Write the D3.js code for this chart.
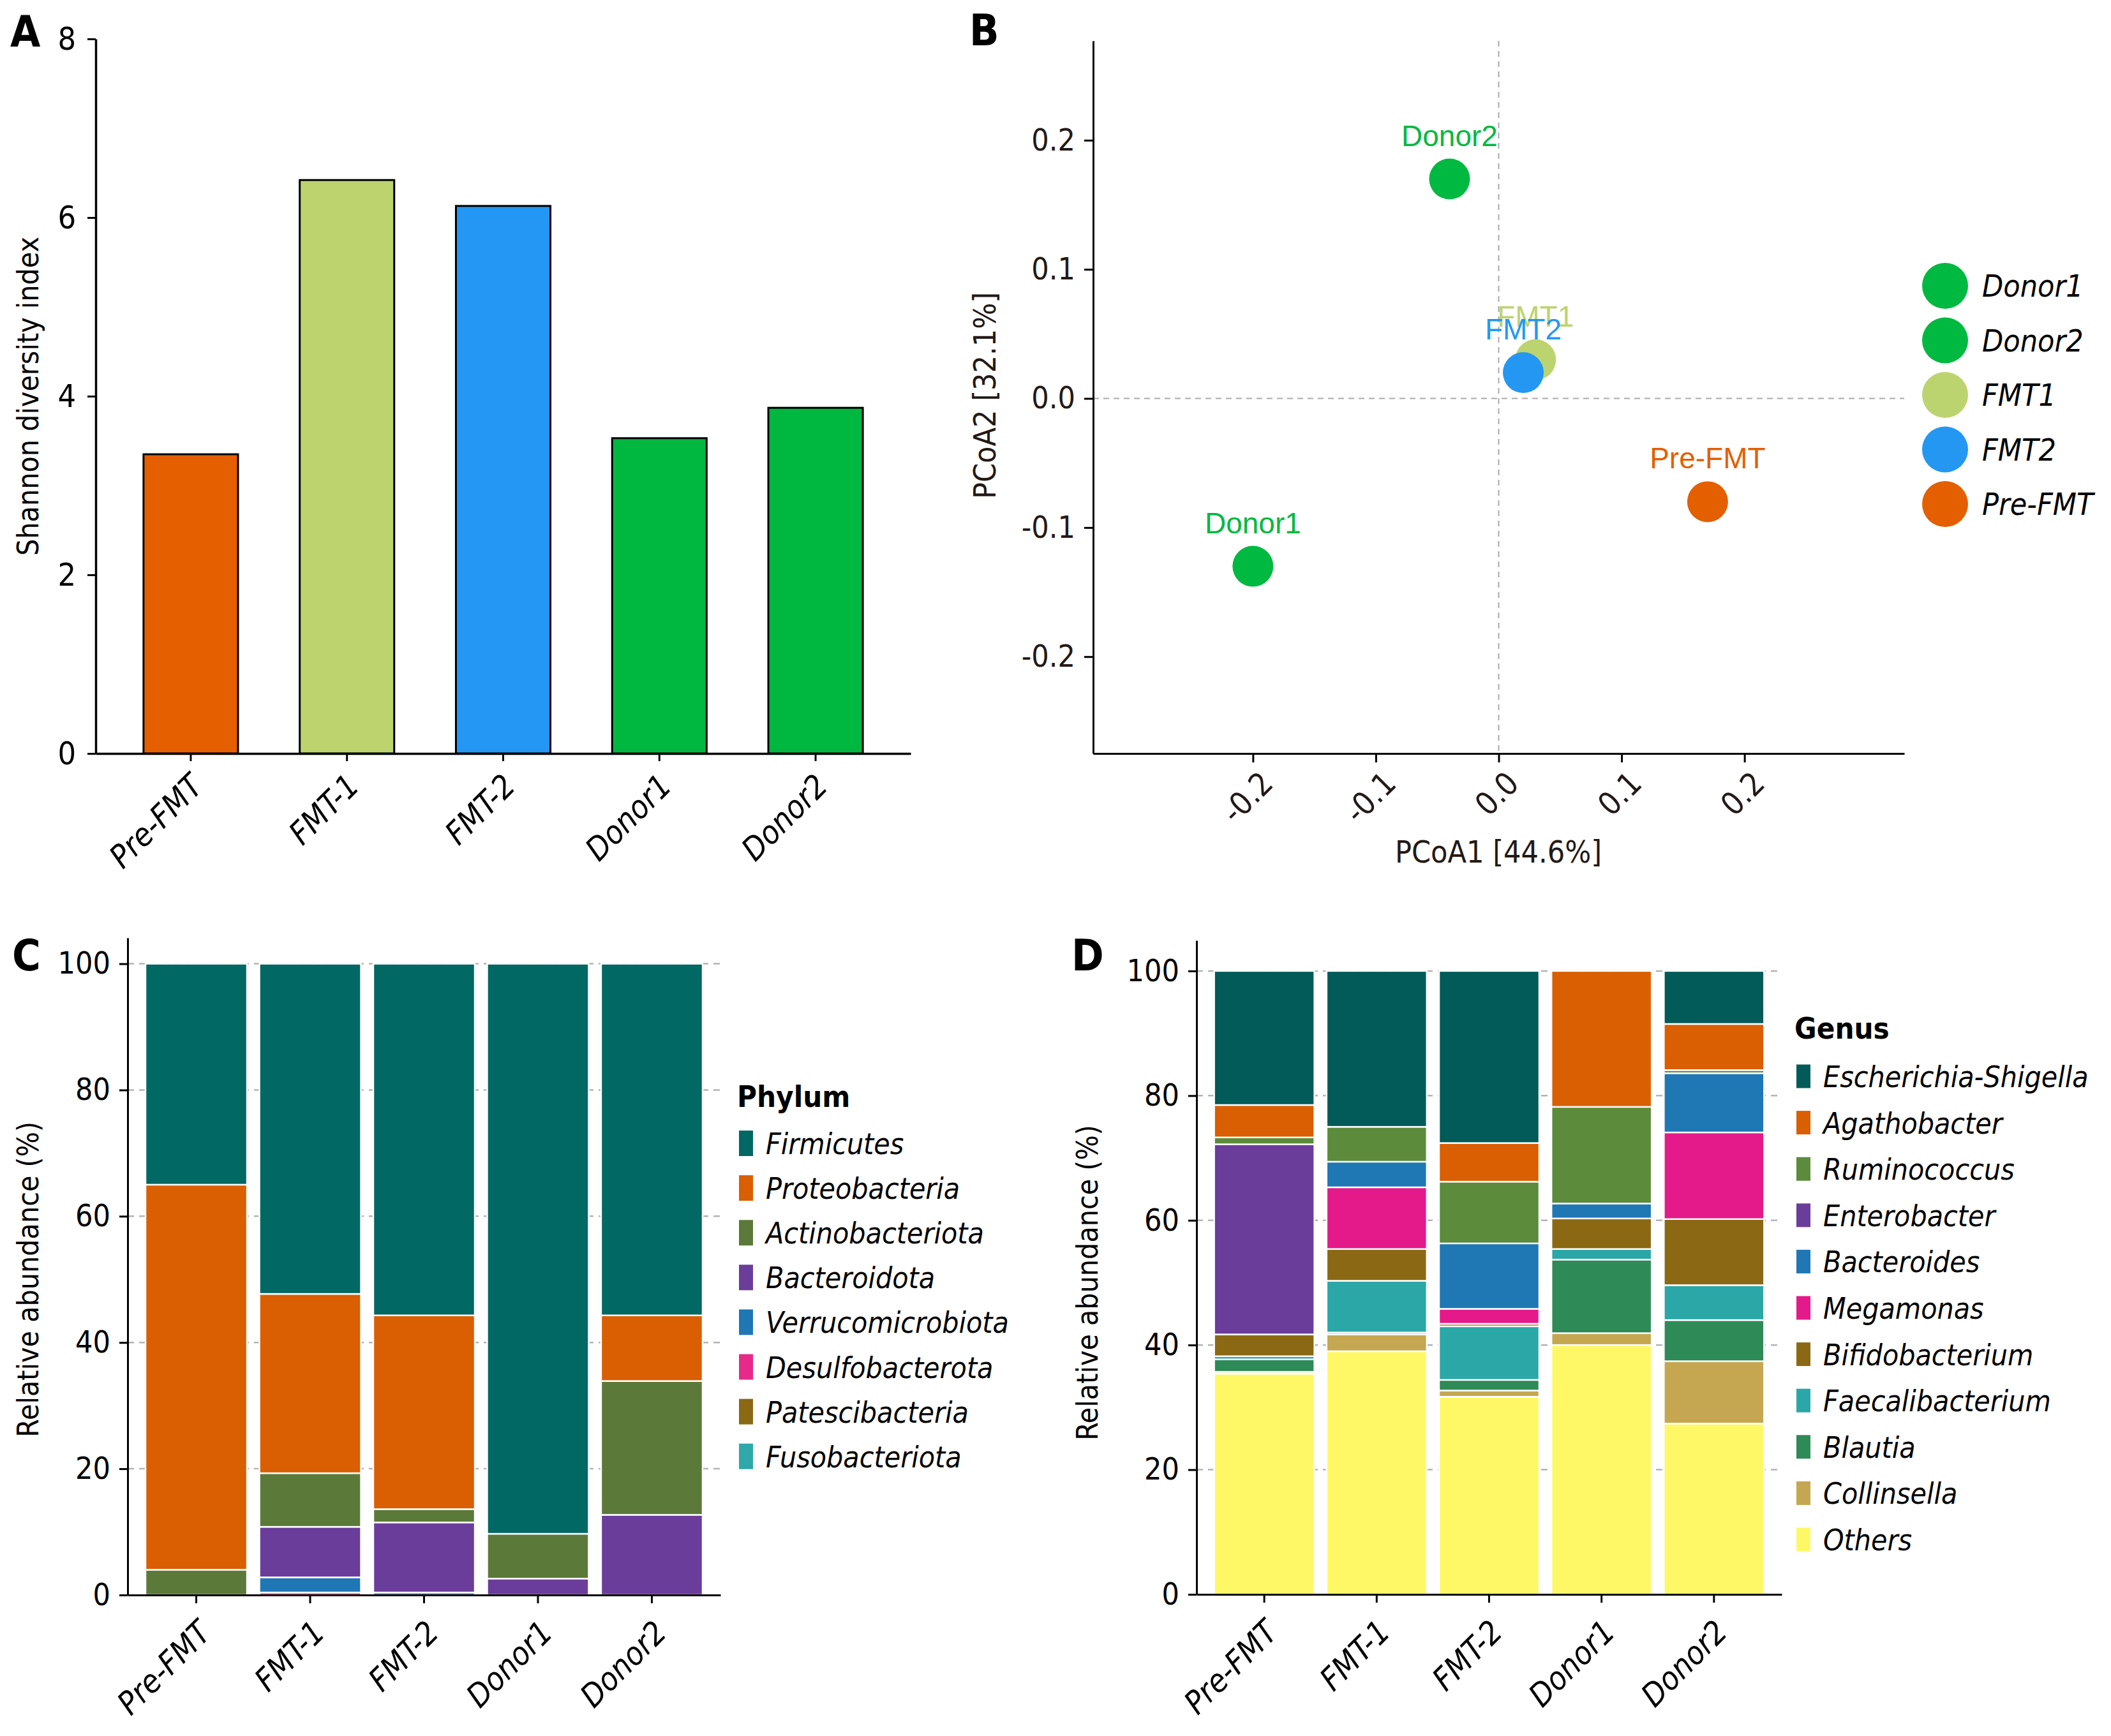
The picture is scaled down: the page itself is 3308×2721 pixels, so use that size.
<!DOCTYPE html>
<html>
<head>
<meta charset="utf-8">
<script src="https://cdn.jsdelivr.net/npm/d3@7"></script>
<style>
body { margin: 0; background: #fff; }
svg { display: block; }
</style>
</head>
<body>
<svg id="fig" width="3308" height="2721"></svg>
<script>
// ---- data ----
var samples = ["Pre-FMT", "FMT-1", "FMT-2", "Donor1", "Donor2"];
var shannon = [3.35, 6.42, 6.13, 3.53, 3.87];
var shannonColors = ["#E55F00", "#BCD36E", "#2397F3", "#00B840", "#00B840"];

var pcoaNames = ["Donor1", "Donor2", "FMT1", "FMT2", "Pre-FMT"];
var pcoa1 = [-0.20, -0.04, 0.03, 0.02, 0.17];
var pcoa2 = [-0.13, 0.17, 0.03, 0.02, -0.08];
var pcoaColors = ["#00B940", "#00B940", "#BCD46F", "#2497F3", "#E35F00"];
var pcoaTicks = [-0.2, -0.1, 0.0, 0.1, 0.2];

var phyla = ["Firmicutes", "Proteobacteria", "Actinobacteriota", "Bacteroidota",
    "Verrucomicrobiota", "Desulfobacterota", "Patescibacteria", "Fusobacteriota"];
var phylumColors = ["#016864", "#D95F02", "#5B7A3A", "#6A3D9A", "#1F77B4", "#E7298A", "#8B6914", "#2EA8A8"];
var firmicutes = [35.0, 52.3, 55.7, 90.3, 55.7];
var proteobacteria = [61.0, 28.4, 30.7, 0, 10.4];
var actinobacteriota = [4.0, 8.5, 2.1, 7.1, 21.2];
var bacteroidota = [0, 8.0, 11.1, 2.6, 12.7];
var verrucomicrobiota = [0, 2.4, 0.4, 0, 0];
var desulfobacterota = [0, 0.4, 0, 0, 0];
var patescibacteria = [0, 0, 0, 0, 0];
var fusobacteriota = [0, 0, 0, 0, 0];

var genera = ["Escherichia-Shigella", "Agathobacter", "Ruminococcus", "Enterobacter", "Bacteroides",
    "Megamonas", "Bifidobacterium", "Faecalibacterium", "Blautia", "Collinsella", "Others"];
var genusColors = ["#035B59", "#D95F02", "#5B8B3B", "#6A3D9A", "#1F77B4", "#E41A8A",
    "#8B6914", "#2CA7A7", "#2E8A57", "#C4A750", "#FFF866"];
var escherichia = [21.5, 25.0, 27.6, 0, 8.5];
var agathobacter = [5.2, 0, 6.2, 21.8, 7.4];
var ruminococcus = [1.1, 5.6, 9.9, 15.5, 0.5];
var enterobacter = [30.5, 0, 0, 0, 0];
var bacteroides = [0, 4.1, 10.5, 2.4, 9.5];
var megamonas = [0, 9.9, 2.4, 0, 13.9];
var bifidobacterium = [3.5, 5.1, 0.4, 4.9, 10.6];
var faecalibacterium = [0.5, 8.3, 8.6, 1.7, 5.6];
var blautia = [2.0, 0.3, 1.7, 11.8, 6.6];
var collinsella = [0.3, 2.7, 1.0, 1.9, 10.0];
var others = [35.4, 39.0, 31.7, 40.0, 27.4];

var abundanceTicks = [0, 20, 40, 60, 80, 100];

var FONT = '"DejaVu Sans Condensed", "DejaVu Sans", sans-serif';
var svg = d3.select("#fig");

function styleAxis(g, size, italic, color) {
    g.attr("font-family", FONT).attr("font-size", size);
    g.selectAll(".domain").attr("stroke", "#000").attr("stroke-width", 3.5);
    g.selectAll(".tick line").attr("stroke", "#000").attr("stroke-width", 3);
    g.selectAll(".tick text").attr("fill", color || "#000")
        .style("font-style", italic ? "italic" : "normal")
        .style("font-stretch", "condensed");
}

function rotateLabels(g, dx, dy) {
    g.selectAll(".tick text")
        .attr("x", 0).attr("y", 0).attr("dy", 0)
        .attr("text-anchor", "end")
        .attr("transform", "translate(" + dx + "," + dy + ") rotate(-45)");
}

function panelLetter(txt, x, y) {
    svg.append("text").attr("x", x).attr("y", y)
        .attr("font-family", FONT).attr("font-weight", "bold")
        .style("font-stretch", "condensed")
        .attr("font-size", 68).text(txt);
}

// ---- A: Shannon bars ----
var xA = d3.scaleBand().domain(samples).range([150, 1427]).paddingInner(0.395).paddingOuter(0.306);
var yA = d3.scaleLinear().domain([0, 8]).range([1181, 61]);
var gA = svg.append("g");

gA.selectAll("rect").data(shannon).enter().append("rect")
    .attr("x", function(d, i) { return xA(samples[i]); })
    .attr("y", function(d) { return yA(d); })
    .attr("width", xA.bandwidth())
    .attr("height", function(d) { return yA(0) - yA(d); })
    .attr("fill", function(d, i) { return shannonColors[i]; })
    .attr("stroke", "#000").attr("stroke-width", 3);

var axAx = gA.append("g").attr("transform", "translate(0,1181)")
    .call(d3.axisBottom(xA).tickSize(12).tickSizeOuter(0));
styleAxis(axAx, 50, true);
rotateLabels(axAx, 22, 54);

var axAy = gA.append("g").attr("transform", "translate(150,0)")
    .call(d3.axisLeft(yA).ticks(4).tickSize(13).tickSizeOuter(0).tickPadding(18));
styleAxis(axAy, 50, false);

gA.append("text").attr("transform", "translate(60,621) rotate(-90)")
    .attr("text-anchor", "middle").attr("font-family", FONT).style("font-stretch", "condensed")
    .attr("font-size", 46).text("Shannon diversity index");
panelLetter("A", 16, 73);

// ---- B: PCoA ----
var xB = d3.scaleLinear().domain([-0.33, 0.33]).range([1713, 2984]);
var yB = d3.scaleLinear().domain([-0.275, 0.277]).range([1181, 64]);
var gB = svg.append("g");
var fmt1 = function(d) { return d.toFixed(1); };

gB.append("line").attr("x1", xB(0)).attr("x2", xB(0)).attr("y1", yB.range()[1]).attr("y2", yB.range()[0])
    .attr("stroke", "#aaa").attr("stroke-width", 2).attr("stroke-dasharray", "9,7");
gB.append("line").attr("x1", xB.range()[0]).attr("x2", xB.range()[1]).attr("y1", yB(0)).attr("y2", yB(0))
    .attr("stroke", "#aaa").attr("stroke-width", 2).attr("stroke-dasharray", "9,7");

var axBx = gB.append("g").attr("transform", "translate(0,1181)")
    .call(d3.axisBottom(xB).tickValues(pcoaTicks).tickFormat(fmt1).tickSize(14).tickSizeOuter(0));
styleAxis(axBx, 50, false, "#231916");
axBx.selectAll(".domain").attr("stroke-width", 3);
rotateLabels(axBx, 34, 50);

var axBy = gB.append("g").attr("transform", "translate(1713,0)")
    .call(d3.axisLeft(yB).tickValues(pcoaTicks).tickFormat(fmt1).tickSize(14).tickSizeOuter(0).tickPadding(14));
styleAxis(axBy, 48, false, "#231916");
axBy.selectAll(".domain").attr("stroke-width", 3);

gB.selectAll("circle.pt").data(pcoaNames).enter().append("circle").attr("class", "pt")
    .attr("cx", function(d, i) { return xB(pcoa1[i]); })
    .attr("cy", function(d, i) { return yB(pcoa2[i]); })
    .attr("r", 32)
    .attr("fill", function(d, i) { return pcoaColors[i]; });

gB.selectAll("text.lab").data(pcoaNames).enter().append("text").attr("class", "lab")
    .attr("x", function(d, i) { return xB(pcoa1[i]); })
    .attr("y", function(d, i) { return yB(pcoa2[i]) - 52; })
    .attr("text-anchor", "middle")
    .attr("font-family", '"Liberation Sans", Arial, sans-serif').attr("font-size", 46)
    .attr("fill", function(d, i) { return pcoaColors[i]; })
    .text(function(d) { return d; });

gB.append("text").attr("x", 2348).attr("y", 1352).attr("text-anchor", "middle")
    .attr("font-family", FONT).style("font-stretch", "condensed").attr("font-size", 48)
    .attr("fill", "#231916").text("PCoA1 [44.6%]");
gB.append("text").attr("transform", "translate(1560,620) rotate(-90)").attr("text-anchor", "middle")
    .attr("font-family", FONT).style("font-stretch", "condensed").attr("font-size", 48)
    .attr("fill", "#231916").text("PCoA2 [32.1%]");

var legB = gB.append("g").selectAll("g").data(pcoaNames).enter().append("g")
    .attr("transform", function(d, i) { return "translate(3048," + (448 + i * 85.5) + ")"; });
legB.append("circle").attr("r", 36).attr("fill", function(d, i) { return pcoaColors[i]; });
legB.append("text").attr("x", 58).attr("y", 17)
    .attr("font-family", FONT).style("font-stretch", "condensed").style("font-style", "italic")
    .attr("font-size", 48).text(function(d) { return d; });
panelLetter("B", 1519, 71);

// ---- C / D: stacked abundance bars ----
function stackedPanel(opt) {
    var rows = samples.map(function(s, i) {
        var r = { sample: s };
        opt.keys.forEach(function(k, j) { r[k] = opt.series[j][i]; });
        return r;
    });
    var colorOf = d3.scaleOrdinal().domain(opt.keys).range(opt.colors);
    var x = d3.scaleBand().domain(samples).range(opt.xr).paddingInner(0.109).paddingOuter(0.157);
    var y = d3.scaleLinear().domain([0, opt.ymax]).range(opt.yr);
    var g = svg.append("g");

    g.append("g").selectAll("line").data(abundanceTicks.slice(1)).enter().append("line")
        .attr("x1", opt.xr[0]).attr("x2", opt.xr[1])
        .attr("y1", function(d) { return y(d); }).attr("y2", function(d) { return y(d); })
        .attr("stroke", "#b4b4b4").attr("stroke-width", 2.5).attr("stroke-dasharray", "10,8");

    // stack bottom-up: reverse of legend order
    var stackKeys = opt.keys.slice().reverse();
    var layers = d3.stack().keys(stackKeys)(rows);
    g.selectAll("g.layer").data(layers).enter().append("g").attr("class", "layer")
        .attr("fill", function(d) { return colorOf(d.key); })
        .selectAll("rect").data(function(d) { return d.filter(function(s) { return s[1] - s[0] > 0; }); })
        .enter().append("rect")
        .attr("x", function(d) { return x(d.data.sample); })
        .attr("y", function(d) { return y(d[1]); })
        .attr("width", x.bandwidth())
        .attr("height", function(d) { return y(d[0]) - y(d[1]); })
        .attr("stroke", "#fff").attr("stroke-width", 2.5);

    var ax = g.append("g").attr("transform", "translate(0," + opt.yr[0] + ")")
        .call(d3.axisBottom(x).tickSize(13).tickSizeOuter(0));
    styleAxis(ax, 50, true);
    ax.selectAll(".domain").attr("stroke-width", 3);
    rotateLabels(ax, opt.lx, opt.ly);

    var ay = g.append("g").attr("transform", "translate(" + opt.xr[0] + ",0)")
        .call(d3.axisLeft(y).tickValues(abundanceTicks).tickSize(13).tickSizeOuter(0).tickPadding(14));
    styleAxis(ay, 48, false);
    ay.selectAll(".domain").attr("stroke-width", 3);

    g.append("text").attr("transform", "translate(" + opt.ylabX + "," + ((opt.yr[0] + y(100)) / 2) + ") rotate(-90)")
        .attr("text-anchor", "middle").attr("font-family", FONT).style("font-stretch", "condensed")
        .attr("font-size", 46).text("Relative abundance (%)");

    g.append("text").attr("x", opt.legX - 3).attr("y", opt.titleY)
        .attr("font-family", FONT).attr("font-weight", "bold").style("font-stretch", "condensed")
        .attr("font-size", 47).text(opt.title);
    var leg = g.append("g").selectAll("g").data(opt.keys).enter().append("g")
        .attr("transform", function(d, i) { return "translate(" + opt.legX + "," + (opt.legY + i * opt.legStep) + ")"; });
    leg.append("rect").attr("x", 0).attr("y", -opt.swH / 2).attr("width", 22).attr("height", opt.swH)
        .attr("fill", function(d) { return colorOf(d); });
    leg.append("text").attr("x", 42).attr("y", 17)
        .attr("font-family", FONT).style("font-stretch", "condensed").style("font-style", "italic")
        .attr("font-size", 46).text(function(d) { return d; });
}

stackedPanel({
    keys: phyla, colors: phylumColors,
    series: [firmicutes, proteobacteria, actinobacteriota, bacteroidota,
        verrucomicrobiota, desulfobacterota, patescibacteria, fusobacteriota],
    xr: [200, 1129], yr: [2500, 1470], ymax: 104.1,
    lx: 26, ly: 62, ylabX: 60,
    title: "Phylum", titleY: 1735, legX: 1158, legY: 1792, legStep: 70.1, swH: 40
});
panelLetter("C", 19, 1521);

stackedPanel({
    keys: genera, colors: genusColors,
    series: [escherichia, agathobacter, ruminococcus, enterobacter, bacteroides,
        megamonas, bifidobacterium, faecalibacterium, blautia, collinsella, others],
    xr: [1875, 2792], yr: [2499, 1474], ymax: 104.9,
    lx: 24, ly: 62, ylabX: 1720,
    title: "Genus", titleY: 1628, legX: 2815, legY: 1687, legStep: 72.6, swH: 37
});
panelLetter("D", 1679, 1521);
</script>
</body>
</html>
